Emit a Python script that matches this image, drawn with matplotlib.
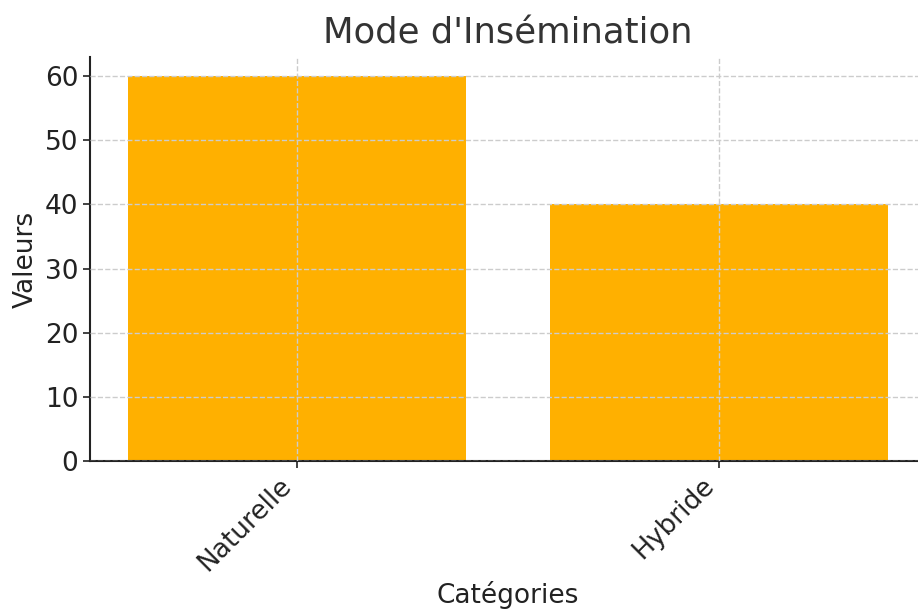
import matplotlib
matplotlib.use("Agg")
import matplotlib.pyplot as plt

categories = ["Naturelle", "Hybride"]
values = [60, 40]

fig = plt.figure(figsize=(9.18, 6.09), dpi=100)
ax = fig.add_axes([90/918, (609-461)/609, (926-90)/918, 404/609])
ax.bar(categories, values, color="#FFB000", width=0.8)
ax.set_title("Mode d'Insémination", fontsize=25.5, color="#333333", pad=10)
ax.set_xlabel("Catégories", fontsize=19, color="#222222", labelpad=3)
ax.set_ylabel("Valeurs", fontsize=19, color="#222222", labelpad=4)
ax.tick_params(axis="both", labelsize=19, colors="#222222", length=5, width=1.2)
plt.setp(ax.get_xticklabels(), rotation=45, ha="right")
ax.grid(True, linestyle="--", color="#cccccc", linewidth=1)
ax.set_axisbelow(False)
for s in ["top", "right"]:
    ax.spines[s].set_visible(False)
for s in ["left", "bottom"]:
    ax.spines[s].set_color("#222222")
    ax.spines[s].set_linewidth(1.5)
ax.set_ylim(0, 63)
ax.set_yticks([0, 10, 20, 30, 40, 50, 60])
fig.savefig("out.png", dpi=100)
